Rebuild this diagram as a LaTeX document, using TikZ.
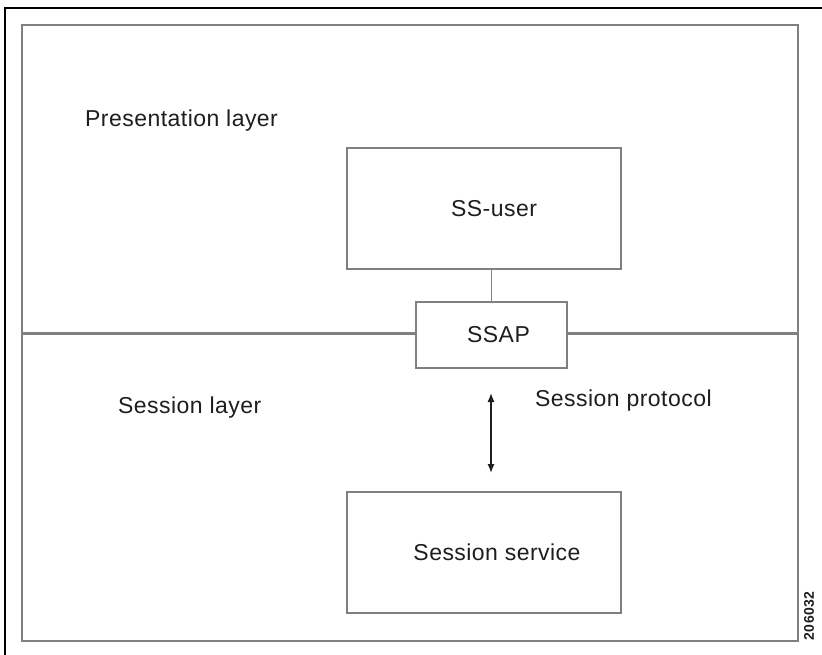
\documentclass[tikz,border=0pt]{standalone}
\usepackage{fontspec}
\setmainfont{Liberation Sans}[LetterSpace=2]
\usetikzlibrary{arrows.meta}
\definecolor{boxgray}{RGB}{128,128,128}
\definecolor{txtgray}{RGB}{30,30,30}
\tikzset{
  layerbox/.style={draw=boxgray,line width=1.4pt,rectangle,inner sep=0pt,
    font=\fontsize{23}{27}\selectfont,text=txtgray},
  layertext/.style={font=\fontsize{23}{27}\selectfont,text=txtgray,inner sep=0pt},
}
\begin{document}
\begin{tikzpicture}[x=1pt,y=-1pt]
\useasboundingbox (0,0) rectangle (822,655);
\fill[white] (0,0) rectangle (822,655);
\draw[line width=2pt] (5,655) -- (5,8) -- (822,8);

\coordinate (pTL) at (22,25);
\coordinate (pBR) at (798,641);
\draw[boxgray,line width=1.6pt] (pTL) rectangle (pBR);

\node[layerbox,minimum width=274pt,minimum height=121pt] (ssuser) at (484,208.5) {\hspace{20pt}SS-user};
\node[layerbox,minimum width=151pt,minimum height=66pt] (ssap) at (491.5,335) {\hspace{14pt}SSAP};
\node[layerbox,minimum width=274pt,minimum height=121pt] (service) at (484,552.5) {\hspace{26pt}Session service};

\coordinate (divL) at (22,333);
\coordinate (divR) at (798,333);
\draw[boxgray,line width=3pt] (divL) -- (divL -| ssap.west);
\draw[boxgray,line width=3pt] (ssap.east |- divR) -- (divR);

\draw[boxgray,line width=1.4pt] (ssap.north) -- (ssap.north |- ssuser.south);

\coordinate (arrTop) at (491,393);
\coordinate (arrBot) at (491,473);
\draw[txtgray,line width=1.3pt,{Latex[length=9pt,width=7pt]}-{Latex[length=9pt,width=7pt]}] (arrTop) -- (arrBot);

\node[layertext,anchor=west] (pres) at (85,121) {Presentation layer};
\node[layertext,anchor=west] (sess) at (118,408) {Session layer};
\node[layertext,anchor=west] (proto) at (535,401) {Session protocol};

\node[rotate=90,font=\fontsize{14}{16}\selectfont\bfseries,text=txtgray,inner sep=0pt] (fignum) at (809,616) {206032};
\end{tikzpicture}
\end{document}
